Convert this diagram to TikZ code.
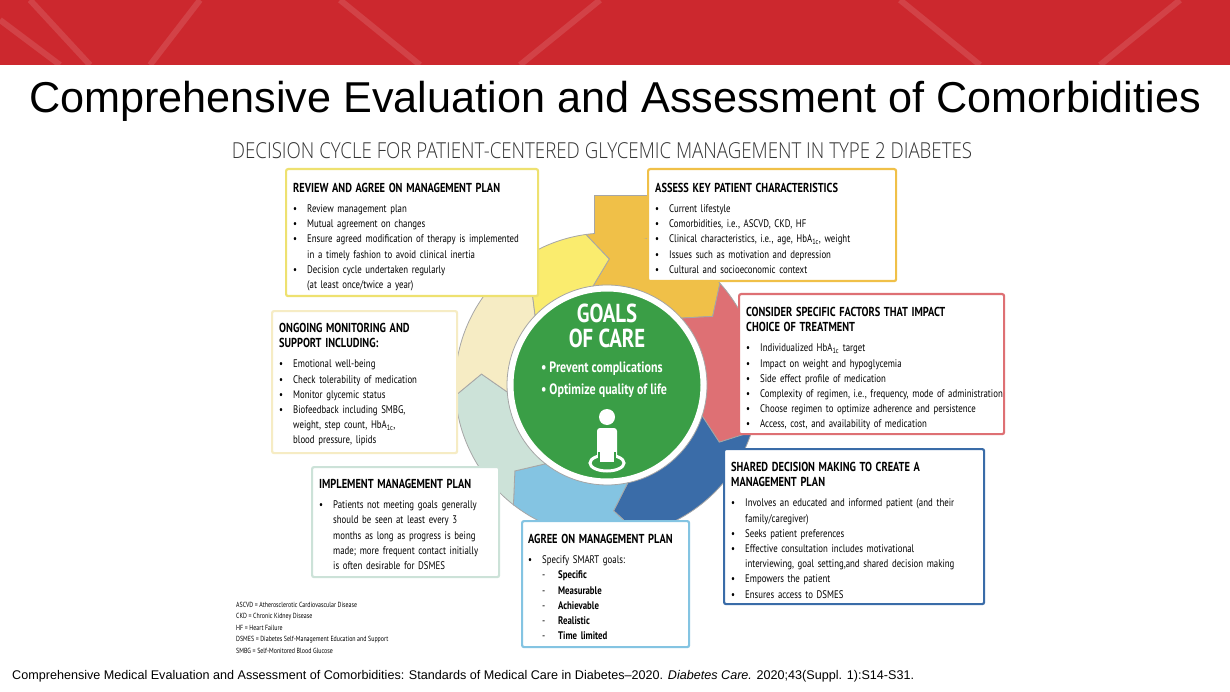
\documentclass[tikz,border=0pt]{standalone}
\usepackage{fontspec}
\setmainfont{Liberation Sans}
\newfontfamily\cond[FakeStretch=0.8]{PT Sans}
\newfontfamily\condl[FakeStretch=0.85]{Open Sans Light}
\definecolor{redband}{RGB}{204,40,46}
\definecolor{cyel}{RGB}{250,236,110}
\definecolor{cgold}{RGB}{240,192,72}
\definecolor{cred}{RGB}{222,112,116}
\definecolor{cblue}{RGB}{58,108,168}
\definecolor{clblue}{RGB}{132,196,226}
\definecolor{cpgreen}{RGB}{204,226,216}
\definecolor{cbeige}{RGB}{246,236,196}
\definecolor{cgreen}{RGB}{58,158,70}
\newcommand\itm[1]{\par\hangindent=14pt\hangafter=1\noindent\makebox[14pt][l]{\textbullet}#1\par}
\newcommand\dsh[1]{\par\hangindent=30pt\hangafter=1\noindent\hspace*{14pt}\makebox[16pt][l]{-}#1\par}
\newcommand\hd[1]{\par\noindent{\bfseries\fontsize{13}{15}\selectfont #1}\par\vspace{5pt}}
\tikzset{
  boxst/.style={draw, line width=2.2pt, fill=white, rounded corners=2pt, anchor=north west, inner sep=0pt},
  txt/.style={anchor=north west, align=left, inner sep=0pt, font=\cond\fontsize{11}{15.2}\selectfont},
  seg/.style={draw=gray!70, line width=0.8pt}
}
\begin{document}
\begin{tikzpicture}[x=1pt,y=-1pt]
\useasboundingbox (0,0) rectangle (1230,692);
\fill[white] (0,0) rectangle (1230,692);
% red band
\fill[redband] (0,0) rectangle (1230,65);
\draw[white,opacity=0.12,line width=6pt] (0,20) -- (60,65) (30,0) -- (90,65) (200,0)--(150,65) (340,0)--(420,65) (520,65)--(600,0) (900,0)--(980,65) (1100,65)--(1180,0);
\node[font=\fontsize{43.2}{46}\selectfont] (title) at (615,101) {Comprehensive Evaluation and Assessment of Comorbidities};
\node[font=\condl\fontsize{22}{26}\selectfont, text=black!80] (sub) at (602,151) {DECISION CYCLE FOR PATIENT-CENTERED GLYCEMIC MANAGEMENT IN TYPE 2 DIABETES};
% ring
\def\Ri{100}\def\Ro{152}\def\Rm{126}
\coordinate (c) at (607,385);
\begin{scope}[shift={(607,385)}]
\fill[cgold,draw=gray!70,line width=0.8pt] (-13,-190) rectangle (43,-140);
\foreach \a/\b/\col in {-98/-42/cgold, -42/18/cred, 18/78/cblue, 78/128/clblue, 128/176/cpgreen, 176/224/cbeige, 224/262/cyel}{
  \filldraw[seg, fill=\col] (\a:\Ri) arc[start angle=\a, end angle=\b, radius=\Ri]
     -- ({\b+9}:\Rm) -- (\b:\Ro) arc[start angle=\b, end angle=\a, radius=\Ro]
     -- ({\a+9}:\Rm) -- cycle;
}
\fill[cgold] (-12,-189) rectangle (42,-147);
\end{scope}
% goals circle
\node[circle, fill=cgreen, draw=white, line width=3pt, minimum size=190pt] (goal) at (607,385) {};
\node[font=\cond\bfseries\fontsize{26}{25}\selectfont, text=white, align=center] (gt) at (607,326) {GOALS\\OF CARE};
\node[font=\cond\bfseries\fontsize{15}{22}\selectfont, text=white, align=left] (gb) at (604,380) {\textbullet\ Prevent complications\\\textbullet\ Optimize quality of life};
\fill[white] (607,417) circle (8);
\fill[white, rounded corners=3pt] (597,428) rectangle (617,458);
\draw[white, line width=3pt] (607,463) ellipse (17 and 8);
\fill[cgreen] (598,452) rectangle (616,462);
\fill[white] (600,450) rectangle (614,462);
% boxes
\node[boxst, draw=cyel!90!gray, minimum width=252pt, minimum height=127pt] (review) at (285,168) {};
\node[txt, text width=245pt] at (293,177) {\hd{REVIEW AND AGREE ON MANAGEMENT PLAN}%
\itm{Review management plan}\itm{Mutual agreement on changes}\itm{Ensure agreed modification of therapy is implemented\newline in a timely fashion to avoid clinical inertia}\itm{Decision cycle undertaken regularly\newline (at least once/twice a year)}};
\node[boxst, draw=cgold, minimum width=248pt, minimum height=112pt] (assess) at (647,168) {};
\node[txt, text width=240pt] at (655,177) {\hd{ASSESS KEY PATIENT CHARACTERISTICS}%
\itm{Current lifestyle}\itm{Comorbidities, i.e., ASCVD, CKD, HF}\itm{Clinical characteristics, i.e., age, HbA\textsubscript{1c}, weight}\itm{Issues such as motivation and depression}\itm{Cultural and socioeconomic context}};
\node[boxst, draw=cred, minimum width=265pt, minimum height=140pt] (consider) at (738,293) {};
\node[txt, text width=262pt] at (746,301) {\hd{CONSIDER SPECIFIC FACTORS THAT IMPACT\newline CHOICE OF TREATMENT}%
\itm{Individualized HbA\textsubscript{1c} target}\itm{Impact on weight and hypoglycemia}\itm{Side effect profile of medication}\itm{Complexity of regimen, i.e., frequency, mode of administration}\itm{Choose regimen to optimize adherence and persistence}\itm{Access, cost, and availability of medication}};
\node[boxst, draw=cblue, minimum width=260pt, minimum height=155pt] (shared) at (723,448) {};
\node[txt, text width=255pt] at (731,456) {\hd{SHARED DECISION MAKING TO CREATE A\newline MANAGEMENT PLAN}%
\itm{Involves an educated and informed patient (and their\newline family/caregiver)}\itm{Seeks patient preferences}\itm{Effective consultation includes motivational\newline interviewing, goal setting,and shared decision making}\itm{Empowers the patient}\itm{Ensures access to DSMES}};
\node[boxst, draw=clblue, minimum width=167pt, minimum height=126pt] (agree) at (521,520) {};
\node[txt, text width=162pt] at (528,528) {\hd{AGREE ON MANAGEMENT PLAN}%
\itm{Specify SMART goals:}\dsh{\textbf{Specific}}\dsh{\textbf{Measurable}}\dsh{\textbf{Achievable}}\dsh{\textbf{Realistic}}\dsh{\textbf{Time limited}}};
\node[boxst, draw=cpgreen, minimum width=187pt, minimum height=110pt] (impl) at (311,466) {};
\node[txt, text width=182pt] at (319,473) {\hd{IMPLEMENT MANAGEMENT PLAN}%
\itm{Patients not meeting goals generally\newline should be seen at least every 3\newline months as long as progress is being\newline made; more frequent contact initially\newline is often desirable for DSMES}};
\node[boxst, draw=cbeige, minimum width=185pt, minimum height=142pt] (ongoing) at (271,310) {};
\node[txt, text width=180pt] at (279,317) {\hd{ONGOING MONITORING AND\newline SUPPORT INCLUDING:}%
\itm{Emotional well-being}\itm{Check tolerability of medication}\itm{Monitor glycemic status}\itm{Biofeedback including SMBG,\newline weight, step count, HbA\textsubscript{1c},\newline blood pressure, lipids}};
% footnotes
\node[anchor=north west, align=left, inner sep=0pt, font=\cond\fontsize{7.4}{11.5}\selectfont] (fn) at (236,602) {ASCVD = Atherosclerotic Cardiovascular Disease\\CKD = Chronic Kidney Disease\\HF = Heart Failure\\DSMES = Diabetes Self-Management Education and Support\\SMBG = Self-Monitored Blood Glucose};
\node[anchor=west, inner sep=0pt, font=\fontsize{12.6}{14}\selectfont] (cite) at (12,676) {Comprehensive Medical Evaluation and Assessment of Comorbidities: Standards of Medical Care in Diabetes--2020. \textit{Diabetes Care.} 2020;43(Suppl. 1):S14-S31.};
\end{tikzpicture}
\end{document}
